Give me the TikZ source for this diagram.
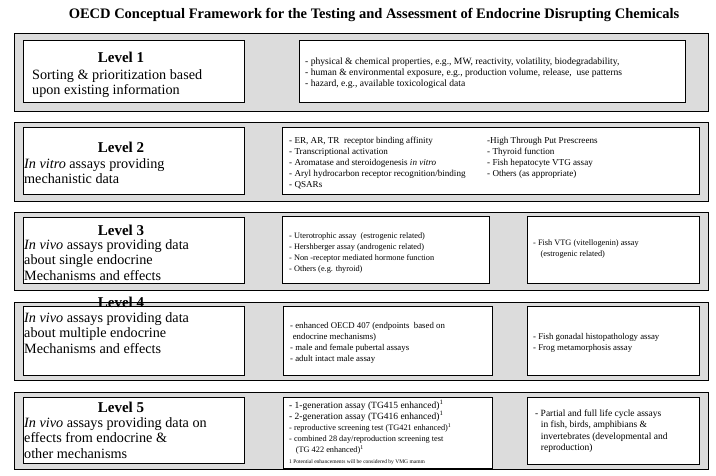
\documentclass[tikz,border=0pt]{standalone}
\usepackage{fontspec}
\setmainfont{Liberation Serif}
\usetikzlibrary{positioning}
\definecolor{panelgray}{HTML}{DCDCDC}
\begin{document}
\begin{tikzpicture}[x=1pt,y=-1pt,
  pnl/.style={draw=black,fill=panelgray,line width=0.9pt},
  bx/.style={draw=black,fill=white,line width=1pt},
  lvl/.style={font=\fontsize{15}{15}\selectfont\bfseries,inner sep=0pt},
  txt/.style={font=\fontsize{14.2}{15.5}\selectfont,align=left,anchor=west,inner sep=0pt},
  lst/.style={font=\fontsize{8.3}{11}\selectfont,align=left,anchor=west,inner sep=0pt}]
\useasboundingbox[fill=white] (0,0) rectangle (716,476);
\node[font=\fontsize{14.5}{15}\selectfont\bfseries] (title) at (374,15) {OECD Conceptual Framework for the Testing and Assessment of Endocrine Disrupting Chemicals};
\draw[pnl] (14,33) rectangle (708,111);
\draw[pnl] (14,122) rectangle (708,201);
\draw[pnl] (14,212) rectangle (708,290);
\draw[pnl] (14,302) rectangle (708,380);
\draw[pnl] (14,392) rectangle (708,469);
\draw[bx] (23,41) rectangle (244,103);
\draw[bx] (23,128) rectangle (244,195);
\draw[bx] (23,218) rectangle (244,284);
\draw[bx] (23,307) rectangle (244,375);
\draw[bx] (23,397) rectangle (244,463);
\draw[bx] (299,41) rectangle (685,103);
\draw[bx] (282,128) rectangle (699,195);
\draw[bx] (282,217) rectangle (489,284);
\draw[bx] (527,217) rectangle (699,284);
\draw[bx] (283,307) rectangle (492,375);
\draw[bx] (527,307) rectangle (699,375);
\draw[bx] (283,397) rectangle (492,468);
\draw[bx] (527,397) rectangle (699,464);
\node[lvl] (lvl1) at (121,57) {Level 1};
\node[txt] (desc1) at (32,83.5) {Sorting \& prioritization based\\upon existing information};
\node[lvl] (lvl2) at (121,147) {Level 2};
\node[txt] (desc2) at (24,171) {\textit{In vitro} assays providing\\mechanistic data};
\node[lvl] (lvl3) at (121,230) {Level 3};
\node[txt] (desc3) at (24,260) {\textit{In vivo} assays providing data\\about single endocrine\\Mechanisms and effects};
\node[lvl] (lvl4) at (121,302) {Level 4};
\node[txt] (desc4) at (24,333) {\textit{In vivo} assays providing data\\about multiple endocrine\\Mechanisms and effects};
\node[lvl] (lvl5) at (121,407) {Level 5};
\node[txt] (desc5) at (24,438) {\textit{In vivo} assays providing data on\\effects from endocrine \&\\other mechanisms};
\node[lst,font=\fontsize{9.6}{11}\selectfont] (info1) at (305,73) {- physical \& chemical properties, e.g., MW, reactivity, volatility, biodegradability,\\- human \& environmental exposure, e.g., production volume, release,\ \ use patterns\\- hazard, e.g., available toxicological data};
\node[lst,font=\fontsize{9.1}{11}\selectfont] (vitro) at (289,163) {- ER, AR, TR\ \ receptor binding affinity\\- Transcriptional activation\\- Aromatase and steroidogenesis \textit{in vitro}\\- Aryl hydrocarbon receptor recognition/binding\\- QSARs};
\node[lst,font=\fontsize{9.1}{11}\selectfont] (screen) at (487,157.5) {-High Through Put Prescreens\\- Thyroid function\\- Fish hepatocyte VTG assay\\- Others (as appropriate)};
\node[lst] (mamm3) at (289,253.5) {- Uterotrophic assay\ \ (estrogenic related)\\- Hershberger assay (androgenic related)\\- Non -receptor mediated hormone function\\- Others (e.g. thyroid)};
\node[lst] (eco3) at (533,249.5) {- Fish VTG (vitellogenin) assay\\\hspace*{0.9em}(estrogenic related)};
\node[lst,font=\fontsize{8.8}{11}\selectfont] (mamm4) at (290,342.5) {- enhanced OECD 407 (endpoints\ \ based on\\\hspace*{0.3em}endocrine mechanisms)\\- male and female pubertal assays\\- adult intact male assay};
\node[lst,font=\fontsize{8.8}{11}\selectfont] (eco4) at (533,342.5) {- Fish gonadal histopathology assay\\- Frog metamorphosis assay};
\node[lst,anchor=north west] (mamm5) at (289,400) {{\fontsize{9.5}{11.5}\selectfont - 1-generation assay (TG415 enhanced)\textsuperscript{1}}\\{\fontsize{9.5}{11.5}\selectfont - 2-generation assay (TG416 enhanced)\textsuperscript{1}}\\- reproductive screening test (TG421 enhanced)\textsuperscript{1}\\- combined 28 day/reproduction screening test\\\hspace*{0.8em}(TG 422 enhanced)\textsuperscript{1}};
\node[lst,font=\fontsize{5.5}{6}\selectfont] (note5) at (289,462) {1 Potential enhancements will be considered by VMG mamm};
\node[lst,font=\fontsize{9.5}{11.5}\selectfont] (eco5) at (535,431) {- Partial and full life cycle assays\\\hspace*{0.6em}in fish, birds, amphibians \&\\\hspace*{0.6em}invertebrates (developmental and\\\hspace*{0.6em}reproduction)};
\end{tikzpicture}
\end{document}
